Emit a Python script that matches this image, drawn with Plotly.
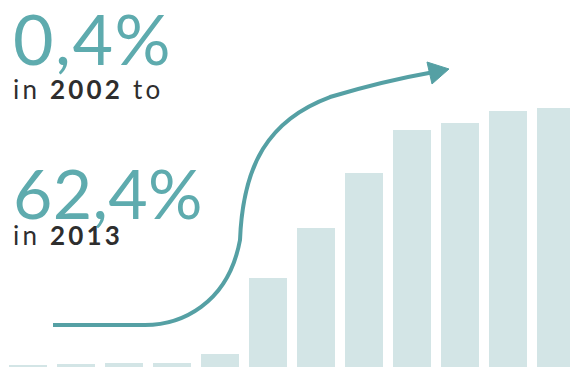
import plotly.graph_objects as go

# Share of the indicator per year, in percent
years = [2002, 2003, 2004, 2005, 2006, 2007, 2008, 2009, 2010, 2011, 2012, 2013]
share = [0.4, 0.7, 0.8, 0.8, 3.0, 21.5, 33.4, 46.7, 57.3, 59.0, 61.9, 62.4]

first_label = "0,4%"
last_label = "62,4%"

W, H = 570, 367
BAR = "#d3e5e6"
TEAL = "#5eabae"
ARROW = "#55a0a4"
DARK = "#2e2e2e"
FONT = "Lato"


def px(x, y):
    """Page pixel position -> paper coordinates."""
    return x / W, 1 - y / H


fig = go.Figure()
fig.add_trace(go.Bar(
    x=years, y=share, width=0.8,
    marker=dict(color=BAR, line=dict(width=0)),
    hoverinfo="skip",
))

# Trend arrow drawn in paper space
pts = [
    ("M", [(53, 325)]),
    ("L", [(145, 325)]),
    ("C", [(180, 325), (228, 305), (240, 240)]),
    ("C", [(243, 165), (268, 120), (330, 97)]),
    ("C", [(370, 85), (400, 78), (434, 72)]),
]
d = ""
for cmd, coords in pts:
    d += cmd + " " + " ".join("%.5f,%.5f" % px(x, y) for x, y in coords) + " "
fig.add_shape(type="path", path=d.strip(), xref="paper", yref="paper",
              line=dict(color=ARROW, width=4))
head = [(427, 62), (449, 69), (432, 84)]
hd = "M " + " L ".join("%.5f,%.5f" % px(x, y) for x, y in head) + " Z"
fig.add_shape(type="path", path=hd, xref="paper", yref="paper",
              fillcolor=ARROW, line=dict(color=ARROW, width=1))


def span(text, size, spacing, color):
    return ('<span style="font-size:%dpx;letter-spacing:%.1fpx;color:%s">%s</span>'
            % (size, spacing, color, text))


value_size = {first_label: 70, last_label: 68}
value_track = {first_label: 1.5, last_label: 0.3}


def block(value, year, tail, x, y, line_size):
    """Big value with a small 'in <year>' line under it; line_size sets the gap."""
    sub = "in <b>%d</b>" % year + (" " + tail if tail else "")
    text = span(value, value_size[value], value_track[value], TEAL) + "<br>" + \
        span(sub, 26, 3.2, DARK)
    ax, ay = px(x, y)
    fig.add_annotation(text=text, x=ax, y=ay, xref="paper", yref="paper",
                       xanchor="left", yanchor="middle", align="left",
                       showarrow=False, borderpad=0,
                       font=dict(family=FONT, size=line_size, color=DARK))


block(first_label, years[0], "to", 12, 50, 26.5)
block(last_label, years[-1], "", 12, 201, 20.0)

fig.update_layout(
    width=W, height=H,
    margin=dict(l=0, r=0, t=0, b=0),
    paper_bgcolor="white", plot_bgcolor="white",
    showlegend=False,
    bargap=0,
    xaxis=dict(range=[2002 - 28 / 48, 2002 + (570 - 28) / 48], visible=False,
               fixedrange=True),
    yaxis=dict(range=[-0.12, 88.63], visible=False, fixedrange=True),
)

fig.write_html("out.html")
